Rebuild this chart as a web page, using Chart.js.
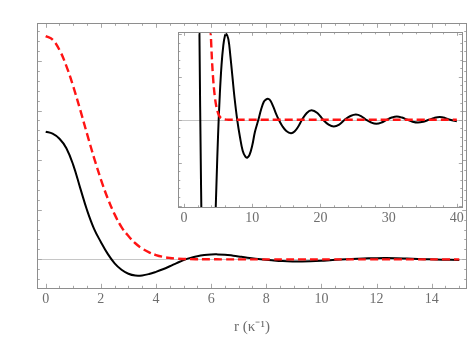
<!DOCTYPE html>
<html><head><meta charset="utf-8">
<script src="https://cdn.jsdelivr.net/npm/chart.js@4"></script>
<style>
html,body{margin:0;padding:0;background:#fff;}
#wrap{position:relative;width:469px;height:339px;}
canvas{position:absolute;left:0;top:0;}
</style></head><body>
<div id="wrap"><canvas id="main" width="469" height="339"></canvas><canvas id="inset" width="469" height="339"></canvas></div>
<script>
// r grid (κ^-1)
const rValues = [0,0.25,0.5,0.75,1,1.25,1.5,1.75,2,2.25,2.5,2.75,3,3.25,3.5,3.75,4,4.25,4.5,4.75,5,5.25,5.5,5.75,6,6.2,6.5,6.8,7.1,7.4,7.8,8.2,8.6,9,9.3,9.6,10,10.4,10.9,11.3,11.7,12,12.35,12.7,13.1,13.5,13.9,14.4,15,15.67,16.2,16.8,17.3,18,18.7,19.55,20.4,21.2,21.96,22.75,23.55,24.4,25.2,25.95,26.7,27.45,28.2,28.95,29.7,30.45,31.2,31.95,32.75,33.5,34.3,35.1,35.9,36.7,37.5,38.25,39,40];
// solid black curve
const blackValues = [1.286,1.266,1.215,1.12,0.95,0.72,0.495,0.31,0.175,0.055,-0.04,-0.105,-0.145,-0.163,-0.162,-0.148,-0.126,-0.10,-0.07,-0.038,-0.008,0.015,0.032,0.043,0.049,0.050,0.047,0.037,0.025,0.013,0,-0.010,-0.018,-0.0215,-0.022,-0.0205,-0.015,-0.007,0,0.006,0.0105,0.0118,0.0122,0.011,0.0075,0.0035,0,-0.0036,-0.0065,-0.0078,-0.0068,-0.0036,0,0.004,0.0056,0.004,0,-0.0028,-0.0039,-0.0028,0,0.0022,0.0031,0.0022,0,-0.0016,-0.0023,-0.0016,0,0.0013,0.0019,0.0013,0,-0.0011,-0.0016,-0.0011,0,0.0011,0.0016,0.0011,0,-0.0009];
// dashed red curve
const redValues = [2.25,2.214,2.11,1.948,1.741,1.508,1.264,1.026,0.807,0.614,0.453,0.325,0.235,0.162,0.108,0.07,0.043,0.025,0.014,0.0075,0.0038,0.0018,0.0009,0.0004,0.0002,0.0001,0,0,0,0,0,0,0,0,0,0,0,0,0,0,0,0,0,0,0,0,0,0,0,0,0,0,0,0,0,0,0,0,0,0,0,0,0,0,0,0,0,0,0,0,0,0,0,0,0,0,0,0,0,0,0,0];
const mainXTicks = [0,2,4,6,8,10,12,14];
const insetXTicks = [0,10,20,30,40];
const xTitle = 'r (κ⁻¹)';

const labelFont = {family:'Liberation Serif', size:14};
const titleFont = {family:'Liberation Serif', size:15};
const labelColor = '#6e6e6e';

const framePlugin = {
  id: 'frameTicks',
  beforeDatasetsDraw(chart, args, o) {
    const {ctx, chartArea: a, scales: {x, y}} = chart;
    ctx.save();
    ctx.fillStyle = '#fff';
    ctx.fillRect(a.left, a.top, a.right - a.left, a.bottom - a.top);
    const y0 = Math.round(y.getPixelForValue(0)) + 0.5;
    ctx.strokeStyle = '#c6c6c6'; ctx.lineWidth = 1;
    ctx.beginPath(); ctx.moveTo(a.left, y0); ctx.lineTo(a.right, y0); ctx.stroke();
    ctx.restore();
  },
  afterDatasetsDraw(chart, args, o) {
    const {ctx, chartArea: a, scales: {x, y}} = chart;
    ctx.save();
    ctx.lineWidth = 1;
    ctx.strokeStyle = '#a8a8a8';
    ctx.beginPath();
    const isMajor = (v, m) => Math.abs(v / m - Math.round(v / m)) < 1e-6;
    for (let k = Math.ceil(x.min / o.xMinor); k * o.xMinor <= x.max; k++) {
      const v = k * o.xMinor;
      const p = Math.round(x.getPixelForValue(v)) + 0.5;
      const L = isMajor(v, o.xMajor) ? o.majorLen : o.minorLen;
      ctx.moveTo(p, a.bottom); ctx.lineTo(p, a.bottom - L);
      ctx.moveTo(p, a.top); ctx.lineTo(p, a.top + L);
    }
    for (let k = Math.ceil(y.min / o.yMinor - 1e-9); k * o.yMinor <= y.max + 1e-12; k++) {
      const v = k * o.yMinor;
      const p = Math.round(y.getPixelForValue(v)) + 0.5;
      const L = isMajor(v, o.yMajor) ? o.majorLen : o.minorLen;
      ctx.moveTo(a.left, p); ctx.lineTo(a.left + L, p);
      ctx.moveTo(a.right, p); ctx.lineTo(a.right - L, p);
    }
    ctx.stroke();
    ctx.strokeStyle = '#8e8e8e';
    ctx.strokeRect(Math.round(a.left) + 0.5, Math.round(a.top) + 0.5, Math.round(a.right - a.left), Math.round(a.bottom - a.top));
    ctx.restore();
  }
};

function pts(maxR) {
  const b = [], r = [];
  rValues.forEach((v, i) => {
    if (v <= maxR) { b.push({x: v, y: blackValues[i]}); r.push({x: v, y: redValues[i]}); }
  });
  return {b, r};
}

function makeChart(id, cfg) {
  const d = pts(cfg.maxR);
  return new Chart(document.getElementById(id), {
    type: 'line',
    data: {datasets: [
      {data: d.r, borderColor: '#ff1414', borderWidth: 2.4, borderDash: [8, 4], pointRadius: 0, fill: false, tension: 0.4},
      {data: d.b, borderColor: '#000', borderWidth: 2, pointRadius: 0, fill: false, tension: 0.4}
    ]},
    options: {
      responsive: false, animation: false, devicePixelRatio: 1,
      layout: {padding: cfg.padding},
      plugins: {legend: {display: false}, tooltip: {enabled: false}, frameTicks: cfg.ticks},
      scales: {
        x: {
          type: 'linear', min: cfg.xmin, max: cfg.xmax,
          grid: {display: false, drawTicks: false}, border: {display: false},
          ticks: {font: labelFont, color: labelColor, padding: 2.5, maxRotation: 0},
          afterBuildTicks: s => { s.ticks = cfg.xTicks.map(v => ({value: v})); },
          afterFit: s => { s.height = cfg.axisH; },
          title: cfg.title ? {display: true, text: cfg.title, font: titleFont, color: labelColor, padding: {top: 0, bottom: 3}} : {display: false}
        },
        y: {type: 'linear', display: false, min: cfg.ymin, max: cfg.ymax}
      }
    },
    plugins: [framePlugin]
  });
}

makeChart('main', {
  maxR: 15, xmin: -0.305, xmax: 15.27, ymin: -0.292, ymax: 2.379,
  padding: {left: 37.3, right: 2.3, top: 23.3, bottom: 0}, axisH: 50.7,
  xTicks: mainXTicks, title: xTitle,
  ticks: {xMinor: 0.5, xMajor: 2, yMinor: 0.1, yMajor: 0.5, majorLen: 4.5, minorLen: 2.5}
});
makeChart('inset', {
  maxR: 40, xmin: -0.84, xmax: 40.8, ymin: -0.051, ymax: 0.051,
  padding: {left: 178.3, right: 6.7, top: 32.3, bottom: 0}, axisH: 131.7,
  xTicks: insetXTicks, title: null,
  ticks: {xMinor: 2, xMajor: 10, yMinor: 0.005, yMajor: 0.025, majorLen: 3.5, minorLen: 2}
});
</script>
</body></html>
